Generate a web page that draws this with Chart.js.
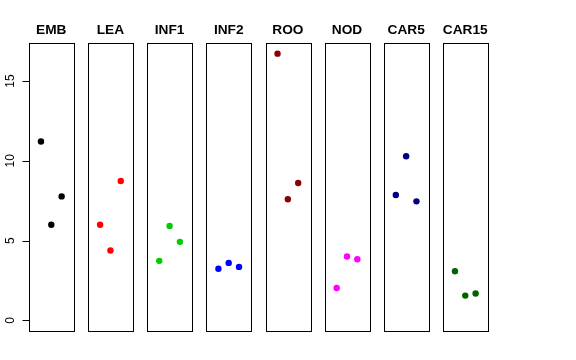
<!DOCTYPE html>
<html><head><meta charset="utf-8">
<script src="https://cdn.jsdelivr.net/npm/chart.js@4/dist/chart.umd.min.js"></script>
<style>html,body{margin:0;padding:0;background:#fff}#wrap{position:relative;width:576px;height:360px}canvas{position:absolute;left:0;top:0}</style>
</head><body><div id="wrap"></div>
<script>
const categories = ['EMB','LEA','INF1','INF2','ROO','NOD','CAR5','CAR15'];
const replicates = [1, 2, 3];
const EMB   = [11.21, 5.99, 7.77];
const LEA   = [5.99, 4.38, 8.74];
const INF1  = [3.73, 5.91, 4.92];
const INF2  = [3.23, 3.60, 3.35];
const ROO   = [16.72, 7.59, 8.61];
const NOD   = [2.03, 4.00, 3.83];
const CAR5  = [7.86, 10.29, 7.46];
const CAR15 = [3.08, 1.55, 1.68];
const seriesValues = [EMB, LEA, INF1, INF2, ROO, NOD, CAR5, CAR15];
const yTicks = [0, 5, 10, 15];
const colors = ['#000000','#FF0000','#00CD00','#0000FF','#8B0000','#FF00FF','#000080','#006400'];

const W = 576, H = 360;
const FONT = '"Liberation Sans", Arial, Helvetica, sans-serif';
const wrap = document.getElementById('wrap');

categories.forEach((cat, i) => {
  const left = 29 + i * 59.14;
  const right = left + 44.6;
  const cv = document.createElement('canvas');
  cv.width = W; cv.height = H;
  cv.style.width = W + 'px'; cv.style.height = H + 'px';
  wrap.appendChild(cv);
  const vals = seriesValues[i];
  const panelPlugin = {
    id: 'panel' + i,
    afterDraw(chart) {
      const ctx = chart.ctx, a = chart.chartArea;
      ctx.save();
      ctx.strokeStyle = '#000';
      ctx.lineWidth = 1;
      ctx.strokeRect(Math.round(a.left) + 0.5, Math.round(a.top) + 0.5,
                     Math.round(a.right - a.left), Math.round(a.bottom - a.top));
      ctx.fillStyle = '#000';
      ctx.font = 'bold 13.7px ' + FONT;
      ctx.textAlign = 'center';
      ctx.textBaseline = 'middle';
      ctx.fillText(cat, (a.left + a.right) / 2, 30);
      if (i === 0) {
        const ys = chart.scales.y;
        const x0 = Math.round(a.left) + 0.5;
        ctx.beginPath();
        ctx.moveTo(x0, Math.round(ys.getPixelForValue(yTicks[0])) + 0.5);
        ctx.lineTo(x0, Math.round(ys.getPixelForValue(yTicks[yTicks.length - 1])) + 0.5);
        yTicks.forEach(t => {
          const py = Math.round(ys.getPixelForValue(t)) + 0.5;
          ctx.moveTo(x0, py);
          ctx.lineTo(x0 - 7, py);
        });
        ctx.stroke();
        ctx.font = '12px ' + FONT;
        yTicks.forEach(t => {
          const py = ys.getPixelForValue(t);
          ctx.save();
          ctx.translate(11, py);
          ctx.rotate(-Math.PI / 2);
          ctx.textAlign = 'center';
          ctx.textBaseline = 'middle';
          ctx.fillText(String(t), 0, 0);
          ctx.restore();
        });
      }
      ctx.restore();
    }
  };
  new Chart(cv, {
    type: 'scatter',
    data: {
      datasets: [{
        label: cat,
        data: replicates.map((x, j) => ({ x: x, y: vals[j] })),
        backgroundColor: colors[i],
        borderColor: colors[i],
        borderWidth: 0,
        pointRadius: 3.2,
        pointHoverRadius: 3.2
      }]
    },
    options: {
      responsive: false,
      animation: false,
      devicePixelRatio: 1,
      layout: { padding: { left: left, right: W - right, top: 43, bottom: H - 331 } },
      scales: {
        x: { type: 'linear', min: -0.16, max: 4.16, display: false },
        y: { type: 'linear', min: -0.669, max: 17.389, display: false }
      },
      plugins: { legend: { display: false }, tooltip: { enabled: false }, title: { display: false } }
    },
    plugins: [panelPlugin]
  });
});
</script>
</body></html>
